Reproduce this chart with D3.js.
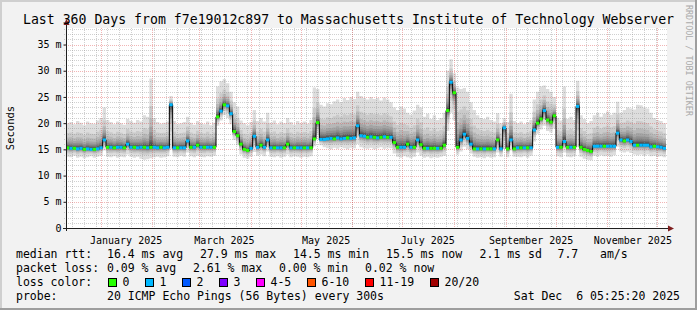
<!DOCTYPE html>
<html>
<head>
<meta charset="utf-8">
<script src="https://cdn.jsdelivr.net/npm/d3@7"></script>
<style>
  body { margin: 0; background: #f2f2f2; }
  svg { display: block; }
  text { font-family: "DejaVu Sans Mono", monospace; fill: #000; white-space: pre; }
</style>
</head>
<body>
<svg id="chart" width="697" height="310"></svg>
<script>
// ---- data (2-day bins) ----
const endTime = new Date(Date.UTC(2025, 11, 6, 5, 25, 20));
const rangeDays = 360;
const binDays = 2;

const median = [
  15.3,15.2,15.2,15.1,15.2,15.0,15.1,15.0,15.0,15.1,
  15.3,16.8,15.4,15.4,15.3,15.4,15.4,15.3,16.0,15.4,
  15.4,15.3,15.4,15.4,15.3,15.4,15.4,15.3,15.4,15.3,
  15.4,23.5,15.3,15.3,15.3,15.3,16.6,15.4,15.4,15.8,
  15.4,15.4,15.4,15.4,15.4,21.2,22.3,23.5,23.3,21.8,
  18.4,17.6,16.0,15.0,14.8,15.2,17.5,15.4,15.8,15.4,
  16.8,15.3,15.3,15.3,15.3,15.3,16.0,15.3,15.3,15.3,
  15.3,15.3,15.3,15.3,17.0,20.1,16.9,16.9,17.0,17.1,
  17.0,17.2,17.0,17.1,17.2,17.1,17.2,19.5,17.6,17.5,
  17.3,17.4,17.3,17.2,17.3,17.4,17.3,17.3,16.3,15.4,
  15.4,15.4,16.0,15.4,15.4,16.8,15.9,15.2,15.2,15.2,
  15.2,15.2,15.2,15.8,22.4,27.8,25.8,15.4,16.8,17.9,
  17.1,16.0,15.1,15.1,15.1,15.1,15.1,15.1,15.1,16.8,
  15.1,19.1,15.1,16.8,15.1,15.3,15.3,15.3,15.3,15.3,
  18.7,20.0,20.8,22.4,20.6,20.2,21.4,15.4,15.4,16.5,
  15.4,15.4,15.4,23.2,15.4,15.0,14.8,14.6,15.6,15.6,
  15.6,15.6,15.6,15.6,15.6,18.1,16.8,16.6,16.8,16.5,
  15.8,15.8,15.8,15.8,15.8,15.5,15.6,15.5,15.4,15.2
];

// highest ping of each bin
const smokeHi = [
  20.0,20.2,19.8,20.4,20.1,19.6,20.3,20.0,19.9,20.5,
  21.0,23.0,20.6,20.2,19.8,20.3,20.0,19.7,20.8,20.4,
  20.1,20.6,20.3,21.5,21.2,28.5,21.0,20.2,19.9,20.1,
  20.3,25.2,20.4,19.8,20.0,20.2,21.2,20.1,19.7,20.4,
  20.0,19.8,20.3,19.6,20.1,27.0,28.0,28.4,27.6,26.0,
  24.0,23.2,20.5,20.0,19.6,20.2,22.5,20.4,21.0,20.3,
  22.0,20.1,20.5,19.8,20.3,20.0,21.0,20.2,19.7,20.4,
  20.0,20.3,19.9,20.6,26.8,26.5,23.5,23.2,23.8,23.6,
  24.2,24.5,24.0,24.8,24.4,25.0,24.6,26.0,25.2,24.8,
  24.5,25.0,24.6,24.8,24.3,24.9,24.5,24.0,23.0,22.5,
  23.2,22.8,22.0,21.6,22.4,23.5,23.0,21.2,21.8,20.8,
  21.5,20.6,21.0,22.0,30.0,32.2,29.5,26.8,26.5,26.7,
  26.0,24.0,22.5,21.5,21.0,20.8,21.2,20.6,20.3,21.9,
  20.0,21.0,20.2,25.6,20.4,20.0,20.3,19.8,20.2,20.6,
  24.5,26.0,27.0,27.2,26.5,26.0,25.0,21.0,20.5,27.0,
  20.8,21.2,20.6,28.1,21.5,20.8,20.0,20.4,21.5,22.0,
  21.2,21.8,22.2,21.6,22.0,24.1,22.0,22.5,23.0,22.8,
  22.6,23.5,23.4,23.0,22.8,22.0,21.0,20.6,20.4,20.0
];

// lowest ping of each bin
const smokeLo = [
  13.6,13.5,13.8,13.4,13.6,13.3,13.5,13.7,13.4,13.6,
  13.8,14.8,13.6,13.5,13.7,13.4,13.6,13.5,14.0,13.6,
  13.4,13.6,13.2,13.0,13.1,13.3,13.5,13.6,13.4,13.5,
  13.7,15.0,13.6,13.5,13.8,13.6,14.4,13.7,13.5,13.8,
  13.6,13.5,13.7,13.6,13.8,19.5,20.5,21.5,21.0,19.8,
  16.8,15.8,14.0,13.4,13.2,13.6,14.5,13.8,14.0,13.7,
  14.6,13.6,13.5,13.7,13.4,13.6,14.0,13.5,13.7,13.6,
  13.4,13.6,13.5,13.7,15.6,18.0,15.8,15.4,15.2,15.0,
  15.3,15.1,15.4,15.2,15.0,15.3,15.2,16.0,15.4,15.2,
  15.1,15.3,15.0,15.2,15.4,15.1,15.3,15.2,14.2,13.6,
  13.4,13.7,13.5,13.3,13.6,14.4,13.8,13.4,13.6,13.3,
  13.5,13.4,13.6,13.8,18.5,22.0,20.5,14.0,14.6,15.5,
  15.0,14.2,13.6,13.4,13.5,13.3,13.6,13.4,13.5,14.4,
  13.6,15.0,13.5,14.8,13.6,13.6,13.5,13.7,13.4,13.8,
  16.5,18.0,18.8,19.5,18.5,18.2,19.0,13.7,13.5,14.4,
  13.6,13.5,13.7,15.5,13.6,13.2,13.0,12.9,13.8,13.6,
  13.9,13.7,13.8,13.6,13.9,15.5,14.6,14.4,14.6,14.3,
  14.0,13.9,14.0,13.8,14.0,13.7,13.8,13.6,13.7,13.5
];

// loss class index of each bin (0 = no loss, 1 = 1/20 lost)
const lossLevel = [
  0,1,0,1,1,0,1,1,0,1,
  1,1,0,1,0,1,1,0,1,1,
  0,1,1,0,1,0,1,1,0,1,
  1,1,1,0,1,1,1,0,1,0,
  1,0,1,1,0,0,1,0,1,1,
  0,0,0,0,0,1,1,1,0,1,
  1,1,0,1,1,0,0,1,0,1,
  1,0,1,0,0,0,1,1,1,1,
  0,1,1,1,0,1,1,1,1,1,
  0,1,0,1,0,1,0,1,0,0,
  1,1,0,1,0,1,0,0,1,0,
  0,1,0,0,0,1,0,0,1,1,
  1,1,0,1,0,1,0,0,1,0,
  1,1,0,1,0,1,0,1,0,1,
  1,0,0,1,0,0,0,1,0,1,
  0,1,0,1,0,0,0,0,1,1,
  1,0,1,1,1,1,1,0,1,1,
  1,0,1,1,1,1,0,1,1,1
];

const lossLabels = ['0', '1', '2', '3', '4-5', '6-10', '11-19', '20/20'];
const lossColors = ['#26ff00', '#00b8ff', '#0059ff', '#7e00ff', '#ff00ff', '#ff5500', '#ff0000', '#a10000'];

const rttStats = ['16.4 ms avg', '27.9 ms max', '14.5 ms min', '15.5 ms now', '2.1 ms sd', '7.7', 'am/s'];
const lossStats = ['0.09 % avg', '2.61 % max', '0.00 % min', '0.02 % now'];
const yTicks = [0, 5, 10, 15, 20, 25, 30, 35];
const labelMonths = [0, 2, 4, 6, 8, 10]; // Jan, Mar, May, Jul, Sep, Nov 2025

const titleText = 'Last 360 Days from f7e19012c897 to Massachusetts Institute of Technology Webserver';
const probeText = '20 ICMP Echo Pings (56 Bytes) every 300s';
const stampText = 'Sat Dec  6 05:25:20 2025';

// ---- layout ----
const W = 697, H = 310;
const plot = { left: 66, right: 666, top: 28, bottom: 228 };
const legendCol = 16;
const rttX = [107, 200, 293, 386, 479.5, 557.5, 600];
const lossX = [107, 193, 279, 365];
const swatchX = [108.5, 145.5, 182.5, 219.5, 256.5, 307.5, 365.5, 430.5];
const lineY = [258, 272, 286, 300];

const gridColor = 'rgba(143,143,143,0.42)';
const mgridColor = 'rgba(222,79,79,0.42)';
const shadeFrac = [1, 0.6, 0.42, 0.3, 0.22, 0.16, 0.11, 0.08, 0.05, 0.03];
const shadeGray = [221, 202, 183, 164, 145, 126, 107, 88, 69, 50];

const svg = d3.select('#chart');

const startTime = d3.utcDay.offset(endTime, -rangeDays);
const x = d3.scaleUtc().domain([startTime, endTime]).range([plot.left, plot.right]);
const y = d3.scaleLinear().domain([0, 38.15]).range([plot.bottom, plot.top]);

const bins = median.map((m, i) => ({
  t: d3.utcDay.offset(startTime, i * binDays),
  m, hi: smokeHi[i], lo: smokeLo[i], loss: lossLevel[i]
}));
const edges = [...bins, { ...bins[bins.length - 1], t: endTime }];

// background and shading frame
svg.append('rect').attr('width', W).attr('height', H).attr('fill', '#f2f2f2');
svg.append('path').attr('d', `M0,${H} V0 H${W}`).attr('stroke', '#cfcfcf').attr('stroke-width', 4).attr('fill', 'none');
svg.append('path').attr('d', `M0,${H} H${W} V0`).attr('stroke', '#9e9e9e').attr('stroke-width', 4).attr('fill', 'none');

svg.append('rect')
  .attr('x', plot.left).attr('y', plot.top)
  .attr('width', plot.right - plot.left + 1).attr('height', plot.bottom - plot.top)
  .attr('fill', '#fff');

// smoke
const smoke = svg.append('g');
shadeFrac.forEach((f, k) => {
  const area = d3.area()
    .curve(d3.curveStepAfter)
    .x(d => x(d.t))
    .y0(d => y(d.m - f * (d.m - d.lo)))
    .y1(d => y(d.m + f * (d.hi - d.m)));
  const c = shadeGray[k];
  smoke.append('path').datum(edges).attr('d', area).attr('fill', `rgb(${c},${c},${c})`);
});

// grid
const grid = svg.append('g')
  .attr('fill', 'none').attr('stroke-width', 1)
  .attr('stroke-dasharray', '1,1').attr('shape-rendering', 'crispEdges');
const px = v => Math.round(v) + 0.5;

const minorY = d3.range(1, 39).filter(v => v % 5 !== 0);
grid.selectAll('line.ym').data(minorY).join('line')
  .attr('x1', plot.left - 2).attr('x2', plot.right + 2)
  .attr('y1', d => px(y(d))).attr('y2', d => px(y(d)))
  .attr('stroke', gridColor);

const weeks = d3.utcSunday.range(startTime, endTime);
grid.selectAll('line.xm').data(weeks).join('line')
  .attr('x1', d => px(x(d))).attr('x2', d => px(x(d)))
  .attr('y1', plot.top).attr('y2', plot.bottom + 2)
  .attr('stroke', gridColor);

grid.selectAll('line.yM').data(yTicks.filter(v => v > 0)).join('line')
  .attr('x1', plot.left - 2).attr('x2', plot.right + 2)
  .attr('y1', d => px(y(d))).attr('y2', d => px(y(d)))
  .attr('stroke', mgridColor);

const months = d3.utcMonth.range(startTime, endTime);
grid.selectAll('line.xM').data(months).join('line')
  .attr('x1', d => px(x(d))).attr('x2', d => px(x(d)))
  .attr('y1', plot.top).attr('y2', plot.bottom + 2)
  .attr('stroke', mgridColor);

// median line, coloured by loss
const medLine = d3.line().curve(d3.curveStepAfter).x(d => x(d.t)).y(d => y(d.m));
svg.append('path').datum(edges).attr('d', medLine)
  .attr('fill', 'none').attr('stroke', '#000').attr('stroke-width', 1);

svg.append('g').selectAll('line').data(bins).join('line')
  .attr('x1', d => x(d.t))
  .attr('x2', (d, i) => x(edges[i + 1].t))
  .attr('y1', d => y(d.m)).attr('y2', d => y(d.m))
  .attr('stroke', d => lossColors[d.loss])
  .attr('stroke-width', 3);

// axes
const yAxis = d3.axisLeft(y)
  .tickValues(yTicks)
  .tickSize(3).tickPadding(2)
  .tickFormat(d => d === 0 ? '0' : `${d} m`);
const gy = svg.append('g').attr('transform', `translate(${plot.left + 0.5},0)`).call(yAxis);
gy.select('.domain').remove();
gy.selectAll('.tick line').attr('stroke', '#1f1f1f');
gy.selectAll('.tick text').attr('font-family', 'DejaVu Sans Mono').attr('font-size', 10).attr('fill', '#000');

const labelDates = labelMonths.map(m => d3.utcDay.offset(new Date(Date.UTC(2025, m, 1)), 15));
const xAxis = d3.axisBottom(x)
  .tickValues(labelDates)
  .tickSize(0).tickPadding(9)
  .tickFormat(d3.utcFormat('%B %Y'));
const gx = svg.append('g').attr('transform', `translate(0,${plot.bottom})`).call(xAxis);
gx.select('.domain').remove();
gx.selectAll('.tick text').attr('font-family', 'DejaVu Sans Mono').attr('font-size', 10).attr('fill', '#000');

// axis lines and arrows
svg.append('line').attr('x1', plot.left + 0.5).attr('x2', plot.left + 0.5)
  .attr('y1', plot.bottom + 3).attr('y2', 22).attr('stroke', '#1f1f1f');
svg.append('line').attr('x1', plot.left - 3).attr('x2', 669)
  .attr('y1', plot.bottom + 0.5).attr('y2', plot.bottom + 0.5).attr('stroke', '#1f1f1f');
svg.append('path').attr('d', `M${plot.left - 2.5},25 L${plot.left + 0.5},19 L${plot.left + 3.5},25 Z`).attr('fill', '#7f1f1f');
svg.append('path').attr('d', `M668,${plot.bottom - 2.5} L674,${plot.bottom + 0.5} L668,${plot.bottom + 3.5} Z`).attr('fill', '#7f1f1f');

// title, axis title, watermark
svg.append('text').attr('x', W / 2).attr('y', 24).attr('text-anchor', 'middle')
  .attr('font-size', 13.2).text(titleText);
svg.append('text').attr('transform', `translate(14,128) rotate(-90)`)
  .attr('text-anchor', 'middle').attr('font-size', 10.5).text('Seconds');
svg.append('text').attr('transform', `translate(685.5,5) rotate(90)`)
  .attr('font-size', 8.4).style('fill', '#aaaaaa').text('RRDTOOL / TOBI OETIKER');

// legend
const legend = svg.append('g').attr('font-size', 11.5);
legend.append('text').attr('x', legendCol).attr('y', lineY[0]).text('median rtt:');
legend.selectAll('text.rtt').data(rttStats).join('text').attr('class', 'rtt')
  .attr('x', (d, i) => rttX[i]).attr('y', lineY[0]).text(d => d);

legend.append('text').attr('x', legendCol).attr('y', lineY[1]).text('packet loss:');
legend.selectAll('text.loss').data(lossStats).join('text').attr('class', 'loss')
  .attr('x', (d, i) => lossX[i]).attr('y', lineY[1]).text(d => d);

legend.append('text').attr('x', legendCol).attr('y', lineY[2]).text('loss color:');
const sw = legend.selectAll('g.sw').data(lossLabels).join('g').attr('class', 'sw');
sw.append('rect')
  .attr('x', (d, i) => swatchX[i]).attr('y', lineY[2] - 7.5)
  .attr('width', 8).attr('height', 8)
  .attr('fill', (d, i) => lossColors[i]).attr('stroke', '#000');
sw.append('text')
  .attr('x', (d, i) => swatchX[i] + 14).attr('y', lineY[2]).text(d => d);

legend.append('text').attr('x', legendCol).attr('y', lineY[3]).text('probe:');
legend.append('text').attr('x', rttX[0]).attr('y', lineY[3]).text(probeText);
legend.append('text').attr('x', 680).attr('y', lineY[3]).attr('text-anchor', 'end').text(stampText);
</script>
</body>
</html>
